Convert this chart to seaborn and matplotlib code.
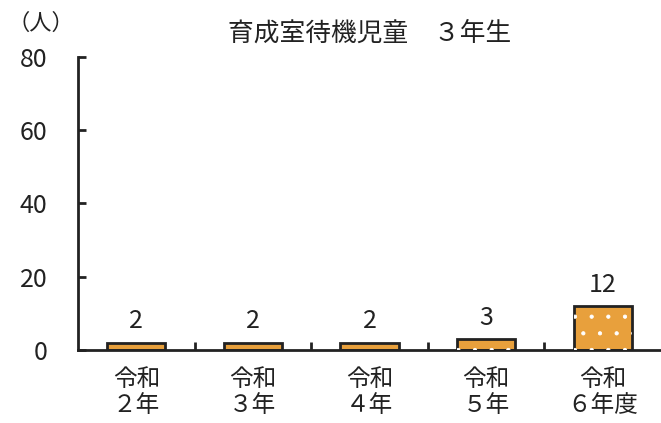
import matplotlib

matplotlib.use("Agg")
import matplotlib.pyplot as plt
import pandas as pd
import seaborn as sns

categories = ["令和\n２年", "令和\n３年", "令和\n４年", "令和\n５年", "令和\n６年度"]
values = [2, 2, 2, 3, 12]
dotted = [False, False, False, True, True]
y_ticks = [0, 20, 40, 60, 80]

sns.set_theme(style="white")
plt.rcParams["font.family"] = ["Noto Sans CJK JP", "DejaVu Sans"]
plt.rcParams["hatch.linewidth"] = 0.6

df = pd.DataFrame({"year": categories, "count": values})

fig = plt.figure(figsize=(6.61, 4.23), dpi=100)
ax = fig.add_axes([0.118, 0.173, 0.882, 0.692])
sns.barplot(data=df, x="year", y="count", color="#E8A03C", width=0.5,
            saturation=1, edgecolor="#222222", linewidth=2, ax=ax)

# white dot pattern on the latest two bars
dot_vals = [v if d else 0 for v, d in zip(values, dotted)]
ax.bar(range(len(values)), dot_vals, width=0.5, fill=False, hatch=".",
       edgecolor="white", linewidth=0, zorder=3)

for i, v in enumerate(values):
    ax.annotate(str(v), (i, v), xytext=(0, 6), textcoords="offset points",
                ha="center", va="bottom", fontsize=18, color="#222222")

ax.set_ylim(0, 80)
ax.set_xlim(-0.5, 4.5)
ax.set_yticks(y_ticks)
ax.set_xticks([0.5, 1.5, 2.5, 3.5], minor=True)
ax.tick_params(axis="x", which="major", length=0, labelsize=17, pad=13,
               colors="#222222")
ax.tick_params(axis="x", which="minor", direction="in", length=6, width=2,
               color="#222222", bottom=True)
ax.tick_params(axis="y", direction="in", length=6, width=2, labelsize=18,
               pad=22, left=True, colors="#222222")
for side in ["top", "right"]:
    ax.spines[side].set_visible(False)
for side in ["left", "bottom"]:
    ax.spines[side].set_color("#222222")
    ax.spines[side].set_linewidth(2)
ax.set_xlabel("")
ax.set_ylabel("")
for lbl in ax.get_xticklabels():
    lbl.set_linespacing(1.2)

ax.set_title("育成室待機児童　３年生", fontsize=18.5, color="#222222", pad=12)
fig.text(0.012, 0.945, "（人）", fontsize=16, color="#222222", ha="left", va="center")

fig.savefig("out.png", dpi=100)
plt.close(fig)
